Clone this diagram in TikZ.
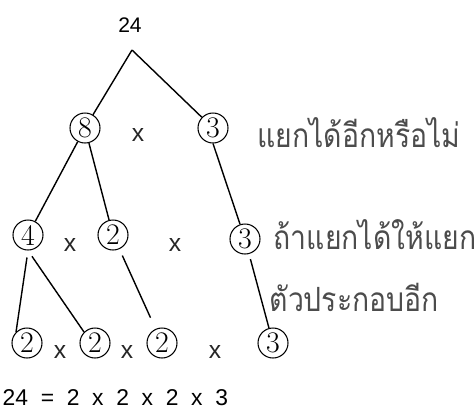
\documentclass[tikz,border=0pt]{standalone}
\usepackage{fontspec}
\newfontfamily\thaifont[Script=Thai]{Loma}
\newfontfamily\sansfont{Liberation Sans}
\newfontfamily\widesans[WordSpace=2.0]{Liberation Sans}
\usetikzlibrary{positioning}

\begin{document}
\begin{tikzpicture}[line width=0.8pt,
    factor/.style={circle,draw,line width=0.6pt,inner sep=0pt,minimum size=0.6cm,
      font=\fontsize{17}{17}\selectfont},
    times/.style={font=\sansfont\fontsize{14}{14}\selectfont,text=black!85},
    note/.style={anchor=west,inner sep=0pt,xscale=0.85,transform shape,
      font=\thaifont\fontsize{19}{19}\selectfont,text=black!70}]

  \useasboundingbox (0,0) rectangle (9.5,-8.3);

  % Root of the tree
  \node[font=\sansfont\fontsize{12}{12}\selectfont] (n24) at (2.6,-0.5) {24};
  \coordinate (top) at (2.64,-1.0);

  % First split
  \node[factor] (n8) at (1.7,-2.56) {8};
  \node[times] (x1) at (2.76,-2.7) {x};
  \node[factor] (n3a) at (4.26,-2.56) {3};
  \node[note] (ask) at (5.14,-2.66) {แยกได้อีกหรือไม่};

  % Second split
  \node[factor] (n4) at (0.56,-4.7) {4};
  \node[times] (x2) at (1.4,-4.9) {x};
  \node[factor] (n2a) at (2.26,-4.7) {2};
  \node[times] (x3) at (3.5,-4.9) {x};
  \node[factor] (n3b) at (4.9,-4.78) {3};
  \node[note] (split1) at (5.46,-4.7) {ถ้าแยกได้ให้แยก};
  \node[note] (split2) at (5.38,-5.94) {ตัวประกอบอีก};

  % Prime factors
  \node[factor] (p1) at (0.54,-6.86) {2};
  \node[times] (x4) at (1.2,-7.04) {x};
  \node[factor] (p2) at (1.9,-6.86) {2};
  \node[times] (x5) at (2.54,-7.04) {x};
  \node[factor] (p3) at (3.24,-6.86) {2};
  \node[times] (x6) at (4.3,-7.04) {x};
  \node[factor] (p4) at (5.46,-6.86) {3};

  % Result
  \node[anchor=west,inner sep=0pt,font=\widesans\fontsize{13}{13}\selectfont]
    (result) at (0.04,-7.96) {24 = 2 x 2 x 2 x 3};

  % Branches
  \path
    (top) edge (n8)
    (top) edge (n3a)
    (n8) edge (n4)
    (n8) edge (n2a)
    (n3a.south) edge (n3b)
    (n4.south) edge[shorten <=4pt] (p1.north west)
    (n4.south) edge[shorten <=4pt] (p2.north west)
    (n2a) edge[shorten <=4pt, shorten >=7pt] (p3)
    (n3b) edge[shorten <=3pt] (p4);
\end{tikzpicture}
\end{document}
